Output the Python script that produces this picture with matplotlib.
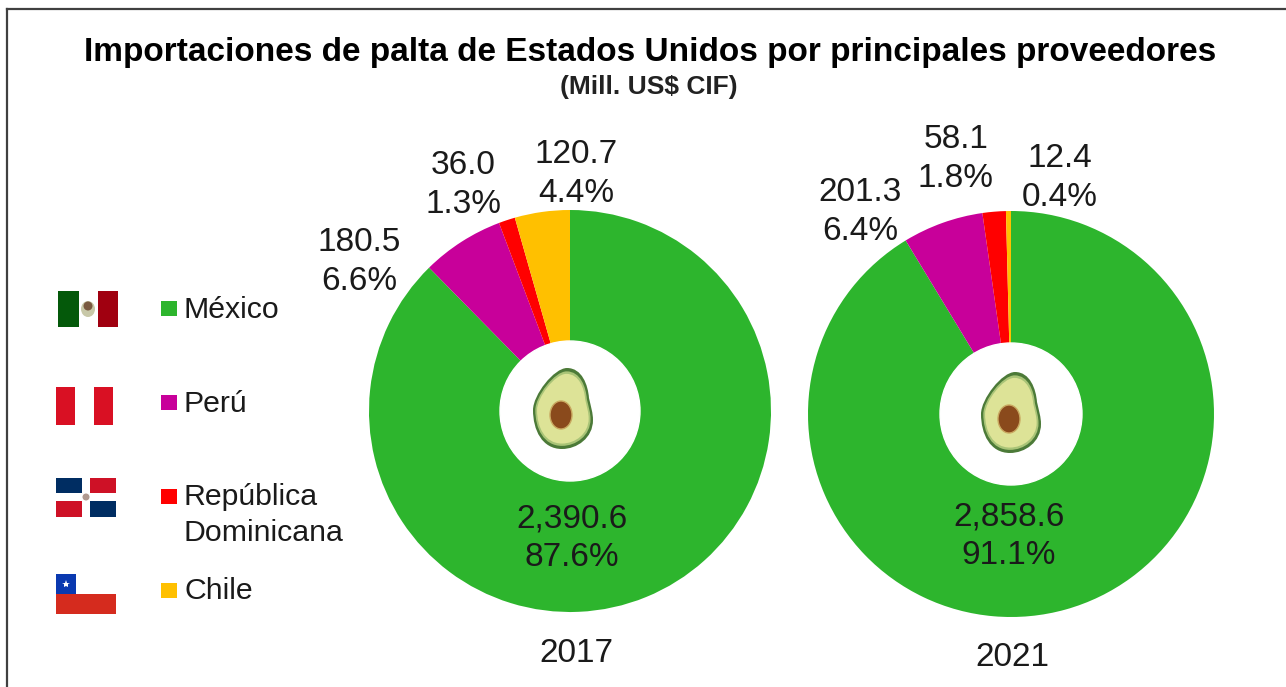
import matplotlib
matplotlib.use("Agg")
import matplotlib.pyplot as plt
from matplotlib.patches import Ellipse, PathPatch, Rectangle
from matplotlib.path import Path
from matplotlib.transforms import Affine2D

plt.rcParams["font.family"] = ["Liberation Sans", "DejaVu Sans"]

W, H = 1286, 687

countries = ["México", "Perú", "República\nDominicana", "Chile"]
colors = ["#2DB52D", "#C8009A", "#FF0000", "#FFC000"]
years = ["2017", "2021"]
values_2017 = [2390.6, 180.5, 36.0, 120.7]
values_2021 = [2858.6, 201.3, 58.1, 12.4]
shares_2017 = [87.6, 6.6, 1.3, 4.4]
shares_2021 = [91.1, 6.4, 1.8, 0.4]

# label anchors in pixels, same order as the values
label_pos_2017 = [(572, 538), (359, 262), (463, 185), (576, 174)]
label_pos_2021 = [(1009, 536), (860, 212), (956, 159), (1060, 178)]

AVOCADO = Path(
    [(5, -42), (20, -42), (26, -25), (27, -12), (29, -3), (31, 3), (31, 10),
     (31, 28), (15, 39), (0, 39), (-20, 39), (-29, 20), (-29, 0),
     (-29, -15), (-8, -42), (5, -42)],
    [Path.MOVETO] + [Path.CURVE4] * 15,
)


def draw_pie(fig, values, cx, cy, r, hole):
    ax = fig.add_axes([(cx - r) / W, 1 - (cy + r) / H, 2 * r / W, 2 * r / H])
    ax.pie(values, colors=colors, startangle=90, counterclock=False, radius=1)
    ax.add_patch(plt.Circle((0, 0), hole / r, color="white", zorder=5))
    ax.set_xlim(-1, 1)
    ax.set_ylim(-1, 1)
    ax.set_axis_off()


def draw_avocado(ax, cx, cy, scale):
    for k, col in [(1.0, "#4C7A38"), (0.92, "#A9C477"), (0.86, "#DDE397")]:
        tr = Affine2D().scale(k * scale).translate(cx, cy) + ax.transData
        ax.add_patch(PathPatch(AVOCADO, facecolor=col, edgecolor="none", transform=tr))
    ax.add_patch(Ellipse((cx - 1 * scale, cy + 5 * scale), 22 * scale, 28 * scale,
                         facecolor="#8A4A1C", edgecolor="#C9A860", linewidth=1))


def box(ax, x0, y0, x1, y1, color):
    ax.add_patch(Rectangle((x0, y0), x1 - x0, y1 - y0, facecolor=color, edgecolor="none"))


def draw_flags(ax):
    # Mexico
    box(ax, 58, 291, 79, 327, "#04590A")
    box(ax, 98, 291, 118, 327, "#A00010")
    ax.add_patch(Ellipse((88, 309), 14, 16, facecolor="#C8C8A8", edgecolor="none"))
    ax.add_patch(Ellipse((88, 306), 9, 9, facecolor="#7A5A40", edgecolor="none"))
    # Peru
    box(ax, 56, 387, 75, 425, "#D91023")
    box(ax, 94, 387, 113, 425, "#D91023")
    # Dominican Republic
    box(ax, 56, 478, 82, 493, "#002D62")
    box(ax, 90, 478, 116, 493, "#CE1126")
    box(ax, 56, 501, 82, 517, "#CE1126")
    box(ax, 90, 501, 116, 517, "#002D62")
    ax.add_patch(Ellipse((86, 497), 7, 7, facecolor="#B09A90", edgecolor="none"))
    # Chile
    box(ax, 56, 574, 76, 594, "#0A39B0")
    box(ax, 56, 594, 116, 614, "#D52B1E")
    ax.plot([66], [584], marker="*", color="white", markersize=6, markeredgewidth=0)


fig = plt.figure(figsize=(W / 100, H / 100), dpi=100, facecolor="white")

draw_pie(fig, values_2017, 570, 411, 201, 70)
draw_pie(fig, values_2021, 1011, 414, 203, 71)

ov = fig.add_axes([0, 0, 1, 1], facecolor="none")
ov.set_xlim(0, W)
ov.set_ylim(H, 0)
ov.set_axis_off()

# outer frame, open on the right
ov.plot([7, 7], [687, 9], color="#404040", lw=1.6)
ov.plot([7, 1286], [9, 9], color="#404040", lw=1.6)

ov.text(650, 52, "Importaciones de palta de Estados Unidos por principales proveedores",
        ha="center", va="center", fontsize=24, fontweight="bold", color="black")
ov.text(649, 87, "(Mill. US$ CIF)", ha="center", va="center", fontsize=19,
        fontweight="bold", color="#222222")

for vals, shares, pos in [(values_2017, shares_2017, label_pos_2017),
                          (values_2021, shares_2021, label_pos_2021)]:
    for v, s, (x, y) in zip(vals, shares, pos):
        ov.text(x, y, f"{v:,.1f}\n{s:.1f}%", ha="center", va="center",
                fontsize=24, color="#1a1a1a", linespacing=1.3)

ov.text(576, 653, years[0], ha="center", va="center", fontsize=24, color="#1a1a1a")
ov.text(1012, 657, years[1], ha="center", va="center", fontsize=24, color="#1a1a1a")

draw_avocado(ov, 562, 410, 1.0)
draw_avocado(ov, 1010, 414, 1.0)
draw_flags(ov)

# legend
legend_y = [308, 402, 496, 590]
text_y = [310, 404, 515, 591]
for name, col, ly, ty in zip(countries, colors, legend_y, text_y):
    box(ov, 161, ly - 7.5, 177, ly + 7.5, col)
    ov.text(184, ty, name, ha="left", va="center", fontsize=21.8, color="#1a1a1a", linespacing=1.35)

fig.savefig("out.png", dpi=100)
plt.close(fig)
